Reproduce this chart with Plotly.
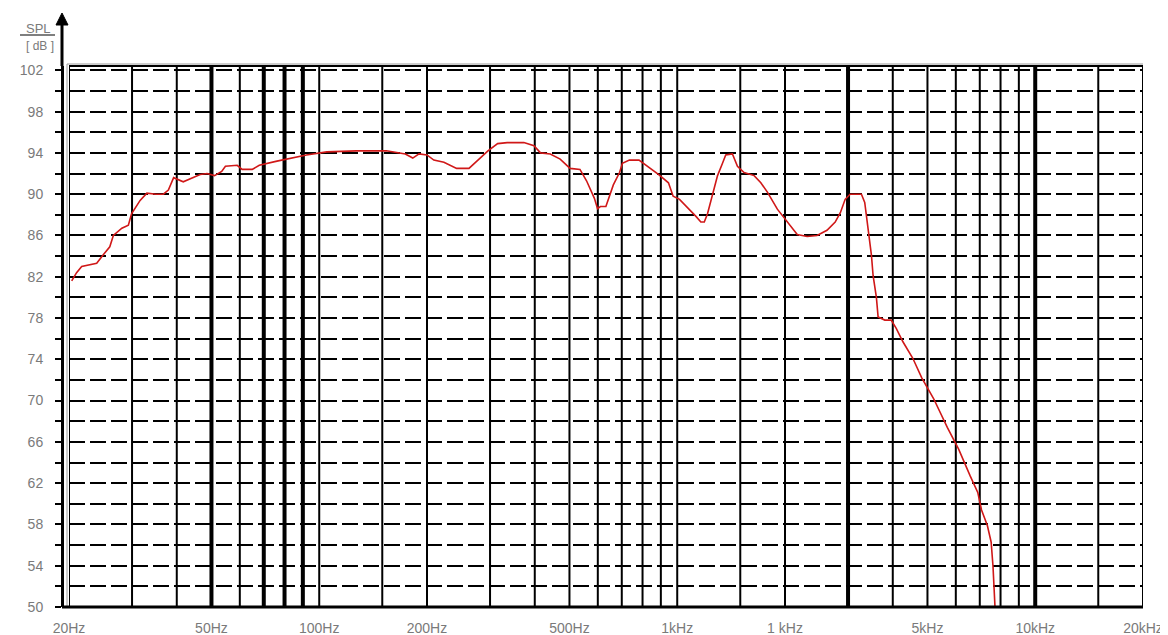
import plotly.graph_objects as go

# ---- data ----
freq_hz = [20.35, 21.0, 21.7, 23.0, 23.9, 24.9, 26.0, 26.6, 28.1, 29.3, 29.9, 31.6, 33.0, 35.0,
           36.7, 37.9, 39.2, 41.7, 44.4, 46.5, 48.6, 51.0, 53.4, 54.7, 59.0, 60.9, 65.0, 68.0,
           76.2, 84.5, 92.1, 105, 127, 154, 174, 182.5, 190, 200, 209, 223, 242, 262, 277,
           296, 315, 335, 373, 398, 415, 442, 471, 502, 535, 558, 587, 599, 610, 632, 663,
           690, 703, 735, 782, 833, 888, 945, 974, 1015, 1070, 1128, 1164, 1190, 1215, 1255,
           1296, 1338, 1366, 1426, 1473, 1537, 1640, 1712, 1786, 1904, 2030, 2164, 2307,
           2458, 2620, 2762, 2855, 2945, 3040, 3270, 3340, 3410, 3487, 3525, 3600, 3640,
           3800, 3960, 4090, 4270, 4550, 4820, 5200, 5680, 6110, 6580, 6910, 7080, 7350,
           7530, 7620, 7720]
spl_db = [81.6, 82.4, 83.0, 83.2, 83.3, 84.1, 84.9, 86.0, 86.7, 87.0, 88.1, 89.4, 90.1, 90.0,
          90.0, 90.4, 91.6, 91.2, 91.6, 91.9, 92.0, 91.8, 92.2, 92.7, 92.8, 92.4, 92.4, 92.8,
          93.2, 93.5, 93.8, 94.1, 94.2, 94.2, 93.9, 93.5, 93.9, 93.8, 93.3, 93.1, 92.5, 92.5, 93.3,
          94.2, 94.9, 95.0, 95.0, 94.7, 94.0, 93.9, 93.4, 92.5, 92.4, 91.3, 89.6, 88.6, 88.8, 88.8, 90.9,
          92.1, 93.0, 93.3, 93.3, 92.6, 91.9, 91.1, 89.8, 89.5, 88.7, 87.85, 87.3, 87.3, 88.1, 90.0,
          91.8, 93.0, 93.8, 93.9, 92.7, 92.1, 91.8, 91.1, 90.2, 88.55, 87.3, 86.1, 85.9,
          86.0, 86.5, 87.3, 88.2, 89.5, 90.0, 90.0, 89.2, 86.8, 84.1, 82.1, 80.0, 78.1,
          77.8, 77.8, 77.0, 75.7, 74.1, 72.2, 70.2, 67.4, 65.3, 62.7, 61.1, 59.4, 57.9,
          56.3, 54.0, 50.0]

x_tick_vals = [20, 50, 100, 200, 500, 1000, 2000, 5000, 10000, 20000]
x_tick_text = ["20Hz", "50Hz", "100Hz", "200Hz", "500Hz", "1kHz", "1 kHz", "5kHz", "10kHz", "20kHz"]
grid_thin = [30, 40, 60, 100, 150, 200, 300, 400, 500, 600, 700, 800, 900, 1000, 1500, 2000,
             4000, 5000, 6000, 7000, 8000, 9000, 15000]
grid_thick = [50, 70, 80, 90, 3000, 10000]
y_grid_vals = list(range(50, 103, 2))
y_label_vals = list(range(50, 103, 4))
y_tick_text = [str(v) if v in y_label_vals else "" for v in y_grid_vals]

# ---- layout geometry (page pixels; the page body has an 8px margin) ----
OFF = 8
W, H = 1168 - OFF, 635 - OFF
AXIS_X, PLOT_TOP, PLOT_BOTTOM, PLOT_RIGHT = 62, 66, 607, 1143
ML = AXIS_X - OFF
MT = PLOT_TOP - OFF
MB = (H + OFF) - PLOT_BOTTOM
MR = (W + OFF) - PLOT_RIGHT
PW = W - ML - MR
PH = H - MT - MB
FRAME_OFF = 7  # frame left edge offset from the y axis line


def px_x(px):
    return (px - AXIS_X) / PW


def px_y(py):
    return (PLOT_BOTTOM - py) / PH


GRAY = "#7a7a7a"
FONT = "Liberation Sans, Arial, sans-serif"

fig = go.Figure()
fig.add_trace(go.Scatter(x=freq_hz, y=spl_db, mode="lines",
                         line=dict(color="#d01818", width=1.6), hoverinfo="skip",
                         showlegend=False))

shapes = []
for f in grid_thin:
    shapes.append(dict(type="line", xref="x", yref="paper", x0=f, x1=f, y0=0, y1=1,
                       line=dict(color="black", width=2), layer="below"))
for f in grid_thick:
    shapes.append(dict(type="line", xref="x", yref="paper", x0=f, x1=f, y0=0, y1=1,
                       line=dict(color="black", width=4), layer="below"))
# frame
shapes.append(dict(type="rect", xref="x", yref="paper", x0=20, x1=20000, y0=0, y1=1,
                   line=dict(color="black", width=2), layer="above"))
shapes.append(dict(type="line", xref="paper", yref="paper", x0=px_x(AXIS_X + FRAME_OFF - 2),
                   x1=1.0, y0=px_y(PLOT_TOP - 2), y1=px_y(PLOT_TOP - 2),
                   line=dict(color="#9a9a9a", width=1)))
shapes.append(dict(type="line", xref="paper", yref="paper", x0=px_x(AXIS_X + FRAME_OFF - 2),
                   x1=px_x(AXIS_X + FRAME_OFF - 2), y0=0, y1=px_y(PLOT_TOP - 2),
                   line=dict(color="#9a9a9a", width=1)))
# bottom thick line
shapes.append(dict(type="line", xref="paper", yref="paper", x0=0, x1=1, y0=0, y1=0,
                   line=dict(color="black", width=3), layer="above"))
# y axis extension and arrow
shapes.append(dict(type="line", xref="paper", yref="paper", x0=0, x1=0, y0=1, y1=px_y(22),
                   line=dict(color="black", width=3)))
shapes.append(dict(type="path", xref="paper", yref="paper",
                   path=f"M {px_x(56)},{px_y(25)} L {px_x(62)},{px_y(13)} L {px_x(68)},{px_y(25)} Z",
                   fillcolor="black", line=dict(color="black", width=1)))
# SPL underline
shapes.append(dict(type="line", xref="paper", yref="paper", x0=px_x(20), x1=px_x(55),
                   y0=px_y(35), y1=px_y(35), line=dict(color="#555555", width=1.5)))

annotations = [
    dict(text="SPL", xref="paper", yref="paper", x=px_x(38), y=px_y(28), showarrow=False,
         font=dict(family=FONT, size=13, color=GRAY), xanchor="center", yanchor="middle"),
    dict(text="[ dB ]", xref="paper", yref="paper", x=px_x(40), y=px_y(46), showarrow=False,
         font=dict(family=FONT, size=12, color=GRAY), xanchor="center", yanchor="middle"),
]

fig.update_layout(
    width=W, height=H,
    margin=dict(l=ML, r=MR, t=MT, b=MB, pad=0, autoexpand=False),
    paper_bgcolor="white", plot_bgcolor="white",
    shapes=shapes, annotations=annotations,
    xaxis=dict(type="log", range=[1.30103, 4.30103], domain=[FRAME_OFF / PW, 1],
               tickvals=x_tick_vals, ticktext=x_tick_text, showgrid=False, zeroline=False,
               ticks="", showline=False, ticklabelstandoff=11, automargin=False,
               tickfont=dict(family=FONT, size=14, color=GRAY)),
    yaxis=dict(range=[50, 102.42], anchor="free", position=0, tickvals=y_grid_vals,
               ticktext=y_tick_text, showgrid=True, gridcolor="black", gridwidth=2,
               griddash="16px,5px", zeroline=False, showline=True, linecolor="black",
               linewidth=3, ticks="outside", ticklen=6, tickwidth=2, tickcolor="black",
               ticklabelstandoff=9, automargin=False,
               tickfont=dict(family=FONT, size=14, color=GRAY)),
)

fig.write_html("out.html")
